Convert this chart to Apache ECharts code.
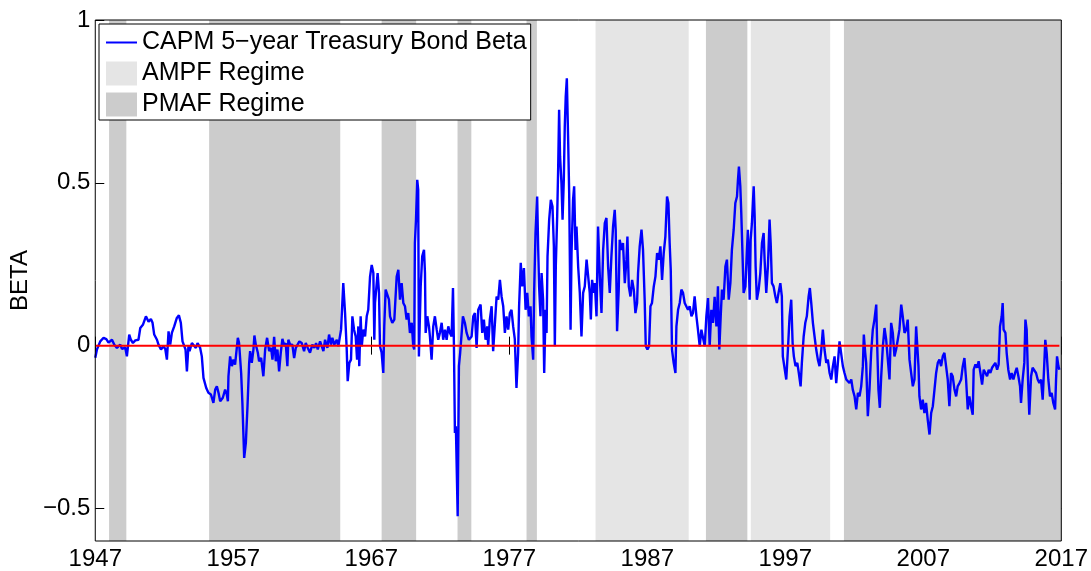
<!DOCTYPE html>
<html>
<head>
<meta charset="utf-8">
<script src="https://cdn.jsdelivr.net/npm/echarts@6/dist/echarts.min.js"></script>
<style>
html,body{margin:0;padding:0;background:#fff;}
#chart{width:1091px;height:571px;}
</style>
</head>
<body>
<div id="chart"></div>
<script>
// ---- data ----
const xTicks = [1947, 1957, 1967, 1977, 1987, 1997, 2007, 2017];
const yTicks = [-0.5, 0, 0.5, 1];

const pmafStart = [1948.0, 1955.25, 1967.75, 1973.25, 1978.25, 1991.25, 2001.25];
const pmafEnd   = [1949.25, 1964.75, 1970.25, 1974.25, 1979.0, 1994.25, 2017.0];
const ampfStart = [1983.25, 1994.5];
const ampfEnd   = [1990.0, 2000.25];

const dates = [
1947.0,1947.12,1947.36,1947.60,1947.80,1947.96,1948.21,1948.38,1948.57,1948.81,1948.93,1949.17,1949.29,1949.46,1949.58,1949.73,1949.90,
1950.13,1950.26,1950.45,1950.67,1950.86,1951.03,1951.15,1951.27,1951.47,1951.58,1951.76,1951.94,1952.07,1952.19,1952.31,1952.43,1952.55,1952.72,1952.91,
1953.06,1953.20,1953.32,1953.44,1953.54,1953.64,1953.75,1953.83,1954.00,1954.12,1954.29,1954.41,1954.60,1954.72,1954.84,1955.04,1955.20,1955.38,1955.56,
1955.69,1955.81,1955.93,1956.05,1956.24,1956.41,1956.53,1956.61,1956.65,1956.77,1956.90,1957.01,1957.13,1957.33,1957.42,1957.57,1957.66,1957.79,1957.91,
1958.03,1958.15,1958.22,1958.34,1958.46,1958.53,1958.63,1958.78,1958.87,1959.02,1959.18,1959.31,1959.45,1959.60,1959.74,1959.84,1959.96,1960.08,1960.20,
1960.32,1960.44,1960.56,1960.70,1960.80,1960.92,1960.99,1961.12,1961.28,1961.41,1961.53,1961.67,1961.79,1961.96,1962.13,1962.25,1962.40,1962.56,1962.73,
1962.88,1963.00,1963.12,1963.29,1963.41,1963.53,1963.65,1963.82,1963.94,1964.08,1964.18,1964.32,1964.50,1964.61,1964.74,1964.81,1964.97,1965.10,1965.22,
1965.29,1965.41,1965.53,1965.63,1965.75,1965.87,1965.97,1966.06,1966.13,1966.23,1966.31,1966.42,1966.55,1966.67,1966.78,1966.91,1967.03,1967.15,1967.22,
1967.27,1967.46,1967.56,1967.63,1967.75,1967.87,1967.94,1968.04,1968.16,1968.28,1968.36,1968.52,1968.67,1968.84,1968.96,1969.08,1969.20,1969.32,1969.44,
1969.56,1969.68,1969.80,1969.93,1970.04,1970.11,1970.16,1970.24,1970.33,1970.40,1970.45,1970.58,1970.69,1970.82,1970.89,1970.94,1971.06,1971.18,1971.25,
1971.37,1971.49,1971.61,1971.74,1971.85,1971.97,1972.10,1972.21,1972.34,1972.46,1972.58,1972.70,1972.82,1972.92,1972.99,1973.06,1973.13,1973.26,1973.35,
1973.44,1973.55,1973.64,1973.78,1973.91,1974.07,1974.27,1974.39,1974.51,1974.63,1974.75,1974.92,1975.04,1975.16,1975.28,1975.40,1975.47,1975.59,1975.72,
1975.83,1975.96,1976.08,1976.20,1976.32,1976.44,1976.56,1976.68,1976.80,1976.92,1977.04,1977.16,1977.28,1977.40,1977.52,1977.64,1977.71,1977.83,1977.93,
1978.06,1978.18,1978.30,1978.42,1978.54,1978.61,1978.73,1978.80,1978.90,1979.02,1979.09,1979.16,1979.26,1979.34,1979.45,1979.53,1979.63,1979.70,1979.77,
1979.89,1980.01,1980.13,1980.23,1980.30,1980.37,1980.47,1980.54,1980.61,1980.68,1980.78,1980.86,1980.95,1981.02,1981.09,1981.17,1981.26,1981.34,1981.44,
1981.51,1981.62,1981.70,1981.80,1981.87,1981.99,1982.11,1982.23,1982.35,1982.47,1982.60,1982.71,1982.83,1982.91,1983.00,1983.12,1983.20,1983.32,1983.43,
1983.56,1983.68,1983.80,1983.92,1984.04,1984.16,1984.28,1984.40,1984.52,1984.64,1984.71,1984.81,1984.93,1985.00,1985.13,1985.24,1985.37,1985.49,1985.56,
1985.66,1985.78,1985.90,1986.02,1986.14,1986.26,1986.33,1986.45,1986.58,1986.69,1986.81,1986.89,1987.01,1987.13,1987.23,1987.34,1987.47,1987.59,1987.71,
1987.83,1987.95,1988.07,1988.19,1988.31,1988.43,1988.53,1988.62,1988.70,1988.79,1988.91,1989.04,1989.11,1989.23,1989.35,1989.47,1989.59,1989.71,1989.83,
1989.95,1990.07,1990.20,1990.31,1990.43,1990.56,1990.67,1990.80,1990.92,1991.04,1991.16,1991.28,1991.40,1991.52,1991.64,1991.76,1991.88,1992.01,1992.12,
1992.22,1992.32,1992.41,1992.53,1992.66,1992.77,1992.90,1993.02,1993.13,1993.26,1993.38,1993.50,1993.57,1993.64,1993.74,1993.81,1993.89,1993.98,1994.11,
1994.22,1994.29,1994.42,1994.49,1994.58,1994.71,1994.78,1994.85,1994.94,1995.07,1995.19,1995.31,1995.43,1995.50,1995.62,1995.74,1995.86,1995.94,1996.03,
1996.15,1996.28,1996.39,1996.51,1996.64,1996.75,1996.82,1996.95,1997.07,1997.19,1997.31,1997.43,1997.53,1997.62,1997.74,1997.87,1997.98,1998.11,1998.20,
1998.33,1998.45,1998.56,1998.69,1998.78,1998.88,1999.00,1999.12,1999.24,1999.36,1999.48,1999.61,1999.72,1999.84,1999.97,2000.08,2000.21,2000.33,2000.45,
2000.57,2000.69,2000.81,2000.93,2001.05,2001.17,2001.29,2001.42,2001.53,2001.65,2001.78,2001.89,2002.02,2002.14,2002.26,2002.38,2002.50,2002.62,2002.69,
2002.79,2002.86,2002.98,2003.10,2003.22,2003.34,2003.46,2003.59,2003.66,2003.75,2003.85,2003.95,2004.07,2004.19,2004.31,2004.43,2004.55,2004.67,2004.79,
2004.91,2005.03,2005.15,2005.27,2005.40,2005.51,2005.64,2005.76,2005.87,2006.00,2006.12,2006.24,2006.36,2006.48,2006.55,2006.65,2006.72,2006.84,2006.96,
2007.08,2007.20,2007.32,2007.45,2007.57,2007.69,2007.81,2007.93,2008.05,2008.17,2008.29,2008.41,2008.53,2008.65,2008.77,2008.89,2009.01,2009.13,2009.26,
2009.38,2009.49,2009.62,2009.74,2009.86,2009.98,2010.10,2010.22,2010.34,2010.46,2010.58,2010.65,2010.78,2010.90,2011.01,2011.14,2011.26,2011.38,2011.50,
2011.62,2011.74,2011.86,2011.98,2012.10,2012.22,2012.35,2012.46,2012.56,2012.68,2012.75,2012.82,2012.95,2013.04,2013.16,2013.29,2013.40,2013.53,2013.65,
2013.77,2013.89,2014.01,2014.08,2014.20,2014.32,2014.40,2014.49,2014.59,2014.68,2014.81,2014.92,2015.05,2015.17,2015.29,2015.41,2015.53,2015.65,2015.77,
2015.84,2015.94,2016.06,2016.18,2016.30,2016.42,2016.55,2016.62,2016.69,2016.79,2016.86
];

const beta = [
-0.037,-0.012,0.013,0.024,0.020,0.009,0.018,0.003,-0.007,0.003,-0.010,-0.006,-0.033,0.034,0.018,0.008,0.016,
0.018,0.054,0.064,0.090,0.073,0.082,0.070,0.034,0.018,0.003,-0.012,-0.002,-0.010,-0.043,0.044,0.003,0.039,0.059,0.085,
0.093,0.070,0.013,0.018,-0.012,-0.079,-0.002,-0.017,0.008,0.013,-0.007,0.008,-0.007,-0.033,-0.099,-0.130,-0.145,-0.150,-0.176,
-0.135,-0.125,-0.145,-0.171,-0.160,-0.135,-0.150,-0.171,-0.094,-0.033,-0.063,-0.043,-0.058,0.024,0.008,-0.084,-0.176,-0.345,-0.299,
-0.186,-0.053,-0.017,-0.053,-0.012,0.031,0.003,-0.022,-0.048,-0.038,-0.094,-0.012,0.024,-0.017,-0.007,-0.043,0.027,-0.048,-0.012,
-0.079,-0.022,0.021,-0.002,0.008,-0.063,0.018,0.003,0.003,-0.038,-0.007,-0.012,0.013,0.008,-0.017,0.008,-0.007,-0.022,0.003,
-0.007,0.008,-0.012,0.013,0.018,-0.017,0.018,-0.007,0.034,0.003,0.024,0.003,0.018,-0.002,-0.007,0.049,0.192,0.100,-0.012,
-0.109,-0.053,-0.043,0.090,0.049,0.028,-0.043,0.059,-0.063,0.090,-0.002,0.049,0.028,0.090,0.110,0.212,0.248,0.223,0.018,
0.131,0.223,0.162,-0.002,-0.022,-0.084,0.059,0.172,0.177,0.141,0.090,0.070,0.080,0.212,0.233,0.141,0.192,0.131,0.121,
0.080,0.100,0.039,0.070,-0.002,-0.012,0.315,0.387,0.509,0.479,-0.033,0.182,0.274,0.294,0.223,0.039,0.090,0.059,0.028,
-0.043,0.059,0.090,0.049,0.018,0.039,0.070,0.018,0.049,0.018,0.059,0.039,0.028,0.177,-0.002,-0.268,-0.248,-0.524,-0.063,
-0.022,0.039,0.090,0.070,0.039,0.018,0.028,0.090,0.100,-0.007,0.110,0.126,0.039,0.080,0.018,0.059,-0.002,0.080,0.121,
-0.017,0.070,0.151,0.141,0.202,0.151,0.121,0.039,0.090,0.049,0.100,0.110,0.059,0.020,-0.130,-0.022,0.121,0.254,0.182,
0.238,0.110,0.162,0.090,0.121,0.028,-0.043,0.162,0.346,0.458,0.305,0.182,0.090,0.223,0.141,-0.084,0.110,0.039,0.274,
0.387,0.448,0.427,0.305,-0.002,0.243,0.397,0.540,0.724,0.581,0.499,0.387,0.509,0.673,0.765,0.821,0.642,0.468,0.049,
0.284,0.448,0.489,0.294,0.366,0.243,0.162,0.028,0.162,0.182,0.264,0.264,0.162,0.080,0.202,0.162,0.192,0.090,0.366,
0.212,0.100,0.294,0.376,0.392,0.243,0.162,0.274,0.366,0.417,0.356,0.044,0.172,0.325,0.294,0.315,0.192,0.264,0.335,
0.182,0.151,0.202,0.172,0.100,0.131,0.223,0.305,0.356,0.294,0.141,-0.002,-0.012,-0.002,0.121,0.131,0.182,0.212,0.284,
0.264,0.305,0.202,0.284,0.335,0.458,0.438,0.315,0.233,-0.012,-0.053,-0.084,0.059,0.110,0.131,0.172,0.162,0.131,0.136,
0.110,0.121,0.090,0.100,0.151,0.090,0.049,-0.002,0.049,0.044,-0.002,0.090,0.146,-0.002,0.110,0.070,0.150,0.059,0.182,
-0.012,0.090,0.172,0.141,0.243,0.264,0.141,0.192,0.294,0.356,0.438,0.458,0.509,0.550,0.489,0.407,0.294,0.162,0.182,
0.294,0.356,0.141,0.325,0.376,0.489,0.397,0.243,0.141,0.172,0.223,0.315,0.346,0.264,0.162,0.243,0.387,0.315,0.192,
0.182,0.151,0.131,0.162,0.192,0.151,-0.033,-0.033,-0.104,-0.012,0.090,0.141,0.008,-0.033,-0.063,-0.053,-0.084,-0.125,-0.053,
0.028,0.070,0.090,0.151,0.177,0.131,0.070,0.028,-0.012,-0.043,-0.063,-0.012,0.049,-0.012,-0.053,-0.043,-0.084,-0.104,-0.063,
-0.033,-0.115,-0.053,0.013,0.018,-0.063,-0.084,-0.104,-0.099,-0.115,-0.104,-0.135,-0.156,-0.196,-0.145,-0.156,-0.125,-0.063,0.034,
-0.022,-0.053,-0.217,-0.135,-0.022,0.049,0.080,0.126,-0.002,-0.135,-0.191,-0.094,-0.002,0.054,0.018,-0.043,-0.104,0.070,0.039,
-0.033,-0.012,0.018,0.049,0.126,0.090,0.039,0.049,0.080,-0.043,-0.084,-0.125,-0.104,0.059,0.064,-0.063,-0.156,-0.196,-0.166,
-0.207,-0.176,-0.227,-0.273,-0.207,-0.186,-0.135,-0.084,-0.053,-0.043,-0.063,-0.033,-0.022,-0.063,-0.104,-0.186,-0.084,-0.094,-0.135,
-0.156,-0.125,-0.115,-0.104,-0.063,-0.038,-0.104,-0.196,-0.156,-0.186,-0.212,-0.074,-0.058,-0.068,-0.048,-0.084,-0.120,-0.074,-0.068,
-0.094,-0.074,-0.084,-0.068,-0.074,-0.053,-0.074,-0.058,0.059,0.090,0.131,0.049,0.039,-0.022,-0.074,-0.104,-0.084,-0.104,-0.084,
-0.068,-0.094,-0.125,-0.176,-0.104,-0.053,0.080,0.049,-0.104,-0.212,-0.094,-0.068,-0.074,-0.084,-0.104,-0.115,-0.104,-0.166,-0.053,
0.018,-0.022,-0.104,-0.156,-0.145,-0.176,-0.196,-0.104,-0.033,-0.063,-0.074
];

// ---- build chart ----
const FONT = '"Liberation Sans", Arial, Helvetica, sans-serif';
const yMin = -0.6, yMax = 1;
const lineData = dates.map((d, i) => [d, beta[i]]);
const zeroData = [[dates[0], 0], [dates[dates.length - 1], 0]];
const pmafData = pmafStart.map((s, i) => [s, pmafEnd[i]]);
const ampfData = ampfStart.map((s, i) => [s, ampfEnd[i]]);

function bandRender(params, api) {
  const p1 = api.coord([api.value(0), yMax]);
  const p2 = api.coord([api.value(1), yMin]);
  return {
    type: 'rect',
    shape: { x: p1[0], y: p1[1], width: p2[0] - p1[0], height: p2[1] - p1[1] },
    style: { fill: api.visual('color') }
  };
}
function fmtNum(v) {
  return v < 0 ? '\u2212' + String(-v) : String(v);
}

const chart = echarts.init(document.getElementById('chart'));
chart.setOption({
  animation: false,
  backgroundColor: '#fff',
  textStyle: { fontFamily: FONT },
  grid: { left: 95, right: 29, top: 20, bottom: 29, show: true, borderColor: '#000', borderWidth: 1, backgroundColor: 'transparent', z: 10 },
  legend: {
    orient: 'vertical',
    left: 99, top: 24,
    backgroundColor: '#fff',
    borderColor: '#000', borderWidth: 1, borderRadius: 0,
    padding: [6, 4, 3, 7],
    itemWidth: 31, itemHeight: 24, itemGap: 6,
    textStyle: { fontSize: 25, color: '#000', fontFamily: FONT },
    z: 20,
    data: [
      { name: 'CAPM 5\u2212year Treasury Bond Beta', icon: 'path://M0,0L31,0L31,2L0,2Z' },
      { name: 'AMPF Regime', icon: 'rect' },
      { name: 'PMAF Regime', icon: 'rect' }
    ]
  },
  xAxis: [
    {
      type: 'value', min: 1947, max: 2017, position: 'bottom',
      axisLine: { show: false },
      axisTick: { inside: true, length: 9, lineStyle: { color: '#000' }, customValues: xTicks },
      axisLabel: { customValues: xTicks, fontSize: 24, color: '#000', margin: 6, fontFamily: FONT, formatter: v => String(v) },
      splitLine: { show: false }
    },
    {
      type: 'value', min: 1947, max: 2017, position: 'top',
      axisLine: { show: false },
      axisTick: { inside: true, length: 9, lineStyle: { color: '#000' }, customValues: xTicks },
      axisLabel: { show: false },
      splitLine: { show: false }
    }
  ],
  yAxis: [
    {
      type: 'value', min: yMin, max: yMax, position: 'left',
      name: 'BETA', nameLocation: 'middle', nameGap: 58, nameRotate: 90,
      nameTextStyle: { fontSize: 24, color: '#000', fontFamily: FONT },
      axisLine: { show: false },
      axisTick: { inside: true, length: 9, lineStyle: { color: '#000' }, customValues: yTicks },
      axisLabel: { customValues: yTicks, fontSize: 24, color: '#000', margin: 5, fontFamily: FONT, formatter: fmtNum },
      splitLine: { show: false }
    },
    {
      type: 'value', min: yMin, max: yMax, position: 'right',
      axisLine: { show: false },
      axisTick: { inside: true, length: 9, lineStyle: { color: '#000' }, customValues: yTicks },
      axisLabel: { show: false },
      splitLine: { show: false }
    }
  ],
  series: [
    {
      name: 'AMPF Regime', type: 'custom', renderItem: bandRender,
      itemStyle: { color: '#e5e5e5' }, encode: { x: [0, 1] }, data: ampfData, z: 1, silent: true
    },
    {
      name: 'PMAF Regime', type: 'custom', renderItem: bandRender,
      itemStyle: { color: '#cccccc' }, encode: { x: [0, 1] }, data: pmafData, z: 1, silent: true
    },
    {
      name: 'CAPM 5\u2212year Treasury Bond Beta', type: 'line', data: lineData,
      showSymbol: false, symbol: 'none', color: '#0000ff',
      lineStyle: { color: '#0000ff', width: 2.4 }, z: 3
    },
    {
      name: 'zero', type: 'line', data: zeroData, showSymbol: false, symbol: 'none',
      lineStyle: { color: '#ff0000', width: 2 }, z: 4
    }
  ]
});
</script>
</body>
</html>
